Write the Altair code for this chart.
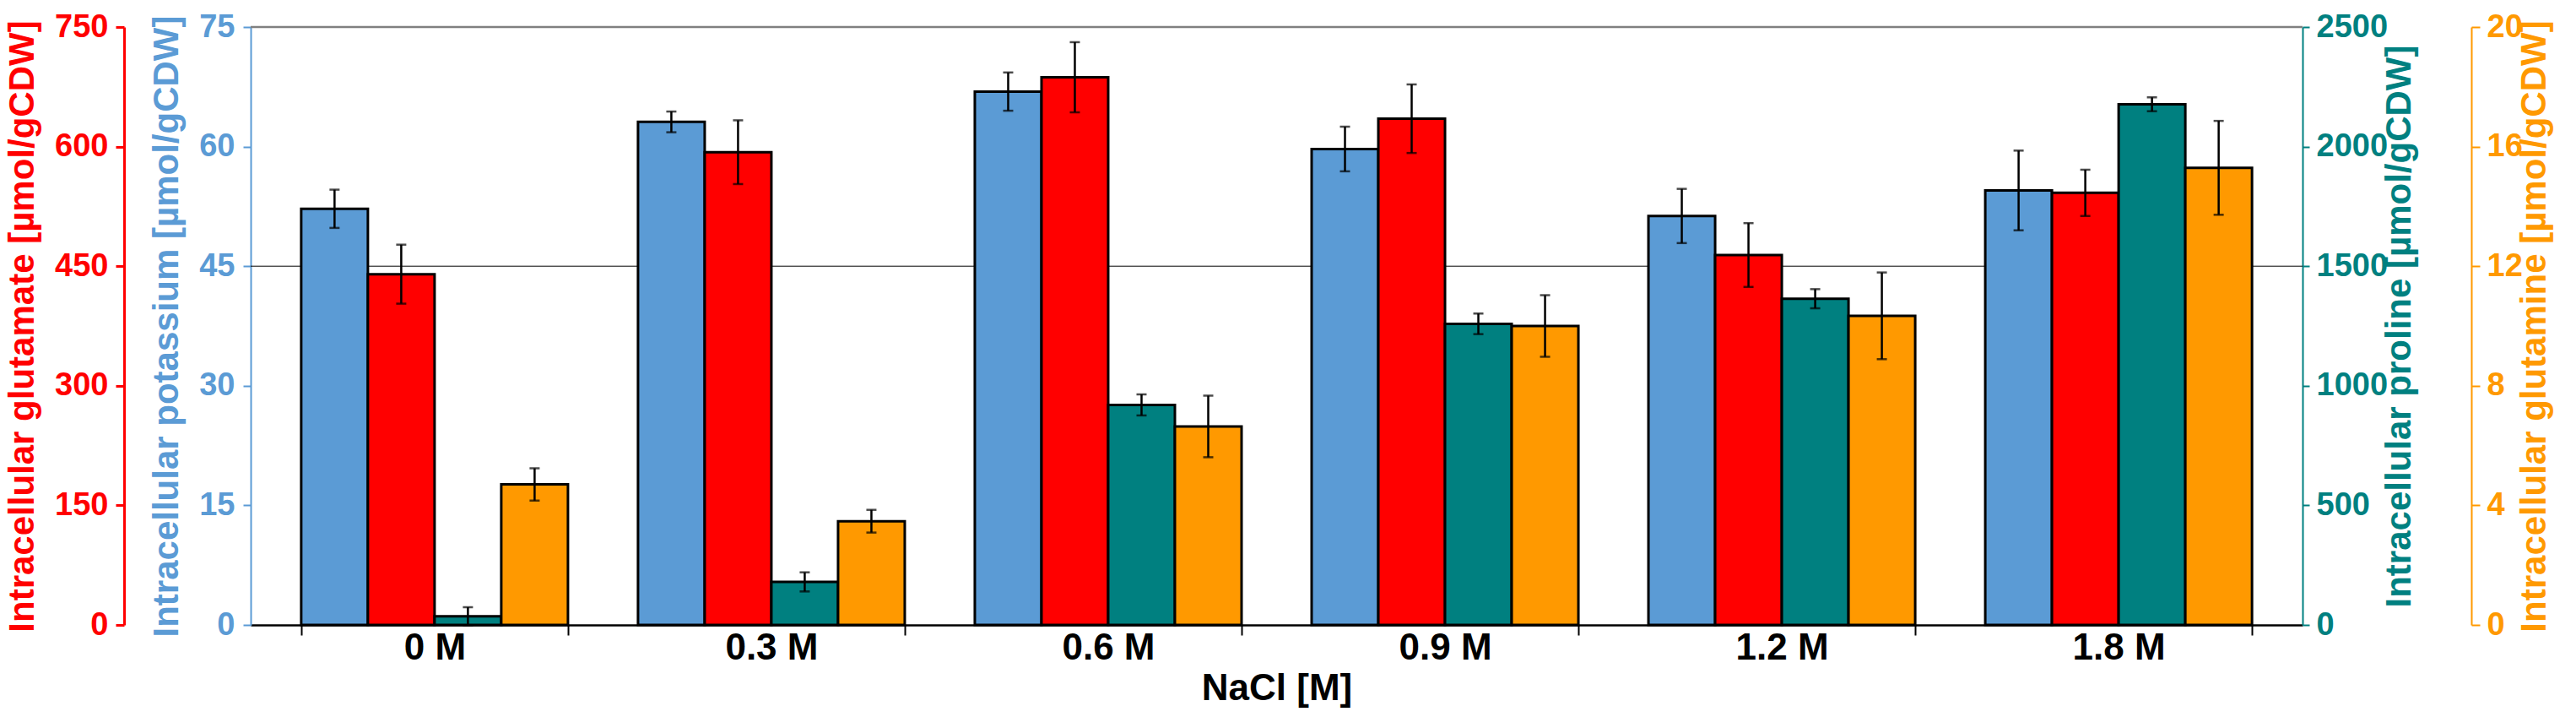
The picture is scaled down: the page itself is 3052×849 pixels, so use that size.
import altair as alt
import pandas as pd

# ---------------- data ----------------
nacl = ["0 M", "0.3 M", "0.6 M", "0.9 M", "1.2 M", "1.8 M"]
series_order = ["potassium", "glutamate", "proline", "glutamine"]

potassium = [52.2, 63.1, 66.9, 59.7, 51.3, 54.5]
potassium_err = [2.4, 1.3, 2.4, 2.8, 3.4, 5.0]
glutamate = [440, 593, 687, 635, 464, 542]
glutamate_err = [37, 40, 44, 43, 40, 29]
proline = [36, 180, 920, 1259, 1364, 2177]
proline_err = [38, 40, 44, 43, 40, 29]
glutamine = [4.70, 3.47, 6.64, 10.0, 10.34, 15.29]
glutamine_err = [0.54, 0.38, 1.03, 1.03, 1.45, 1.57]

potassium_ticks = [0, 15, 30, 45, 60, 75]
glutamate_ticks = [0, 150, 300, 450, 600, 750]
proline_ticks = [0, 500, 1000, 1500, 2000, 2500]
glutamine_ticks = [0, 4, 8, 12, 16, 20]

reference_line = [45]   # thin black line (potassium scale)
frame_top = [75]        # grey top line

rows = []
for name, vals, errs in [("potassium", potassium, potassium_err),
                         ("glutamate", glutamate, glutamate_err),
                         ("proline", proline, proline_err),
                         ("glutamine", glutamine, glutamine_err)]:
    for c, v, e in zip(nacl, vals, errs):
        rows.append({"NaCl": c, "series": name, "value": v, "lo": v - e, "hi": v + e})
df = pd.DataFrame(rows)

FONT = "Liberation Sans, Arial, Helvetica, sans-serif"
BLUE = "#5B9BD5"
RED = "#FF0000"
TEAL = "#008080"
ORANGE = "#FF9900"

x_axis = alt.Axis(
    title="NaCl [M]", labelAngle=0, labelFont=FONT, labelFontSize=44,
    labelFontWeight="bold", labelColor="black", titleFont=FONT,
    titleFontSize=44, titleFontWeight="bold", titleColor="black",
    domainColor="black", domainWidth=2.5, tickColor="black", tickWidth=2,
    tickSize=12, tickBand="extent", labelPadding=-7, titlePadding=4, grid=False,
)
x_enc = alt.X("NaCl:N", sort=nacl,
              scale=alt.Scale(paddingInner=0.208, paddingOuter=0.15),
              axis=x_axis)
xo_enc = alt.XOffset("series:N", sort=series_order,
                     scale=alt.Scale(domain=series_order))


def make_axis(color, ticks, title, orient, offset, tick_size, label_pad,
              title_pad, domain_width, angle_base):
    kw = dict(
        orient=orient, offset=offset, values=ticks, title=title, format="d",
        titleColor=color, labelColor=color, domainColor=color, tickColor=color,
        grid=False, labelFont=FONT, labelFontSize=38, labelFontWeight="bold",
        titleFont=FONT, titleFontSize=42, titleFontWeight="bold",
        titleAngle=270, titlePadding=title_pad, labelPadding=label_pad,
        tickSize=tick_size, domainWidth=domain_width, tickWidth=domain_width,
    )
    if angle_base is not None:
        kw["titleBaseline"] = angle_base
    return alt.Axis(**kw)


def series_layer(name, color, ticks, axis, extra=None):
    scale = alt.Scale(domain=[ticks[0], ticks[-1]], nice=False, zero=True)
    base = alt.Chart(df).transform_filter(alt.datum.series == name)
    bar = base.mark_bar(color=color, stroke="black", strokeWidth=3).encode(
        x=x_enc, xOffset=xo_enc,
        y=alt.Y("value:Q", scale=scale, axis=axis),
    )
    rule = base.mark_rule(color="black", strokeWidth=2.5).encode(
        x=x_enc, xOffset=xo_enc,
        y=alt.Y("lo:Q", scale=scale, axis=axis), y2="hi:Q",
    )
    cap_hi = base.mark_tick(color="black", size=12, thickness=2.5,
                            orient="horizontal").encode(
        x=x_enc, xOffset=xo_enc, y=alt.Y("hi:Q", scale=scale, axis=axis))
    cap_lo = base.mark_tick(color="black", size=12, thickness=2.5,
                            orient="horizontal").encode(
        x=x_enc, xOffset=xo_enc, y=alt.Y("lo:Q", scale=scale, axis=axis))
    layers = (extra(scale, axis) if extra else []) + [bar, rule, cap_hi, cap_lo]
    return alt.layer(*layers)


def k_extras(scale, axis):
    ref = alt.Chart(pd.DataFrame({"v": reference_line})).mark_rule(
        color="black", strokeWidth=1).encode(
        y=alt.Y("v:Q", scale=scale, axis=axis))
    top = alt.Chart(pd.DataFrame({"v": frame_top})).mark_rule(
        color="#808080", strokeWidth=2.5).encode(
        y=alt.Y("v:Q", scale=scale, axis=axis))
    return [ref, top]


ax_k = make_axis(BLUE, potassium_ticks, "Intracellular potassium [µmol/gCDW]",
                 "left", 0, 9, 10, 16, 2, None)
ax_g = make_axis(RED, glutamate_ticks, "Intracellular glutamate [µmol/gCDW]",
                 "left", 150, 10, 9, 16, 3, None)
ax_p = make_axis(TEAL, proline_ticks, "Intracellular proline [µmol/gCDW]",
                 "right", 0, 8, 8, -6, 2, "top")
ax_q = make_axis(ORANGE, glutamine_ticks, "Intracellular glutamine [µmol/gCDW]",
                 "right", 200, 10, 8, -6, 2, "top")

chart = alt.layer(
    series_layer("potassium", BLUE, potassium_ticks, ax_k, k_extras),
    series_layer("glutamate", RED, glutamate_ticks, ax_g),
    series_layer("proline", TEAL, proline_ticks, ax_p),
    series_layer("glutamine", ORANGE, glutamine_ticks, ax_q),
).resolve_scale(y="independent").properties(
    width=2431, height=708,
    autosize=alt.AutoSizeParams(type="none"),
    padding={"left": 289, "top": 24, "right": 316, "bottom": 101},
).configure_view(stroke=None)

chart.save("out.html", embed_options={"renderer": "svg", "actions": False})
